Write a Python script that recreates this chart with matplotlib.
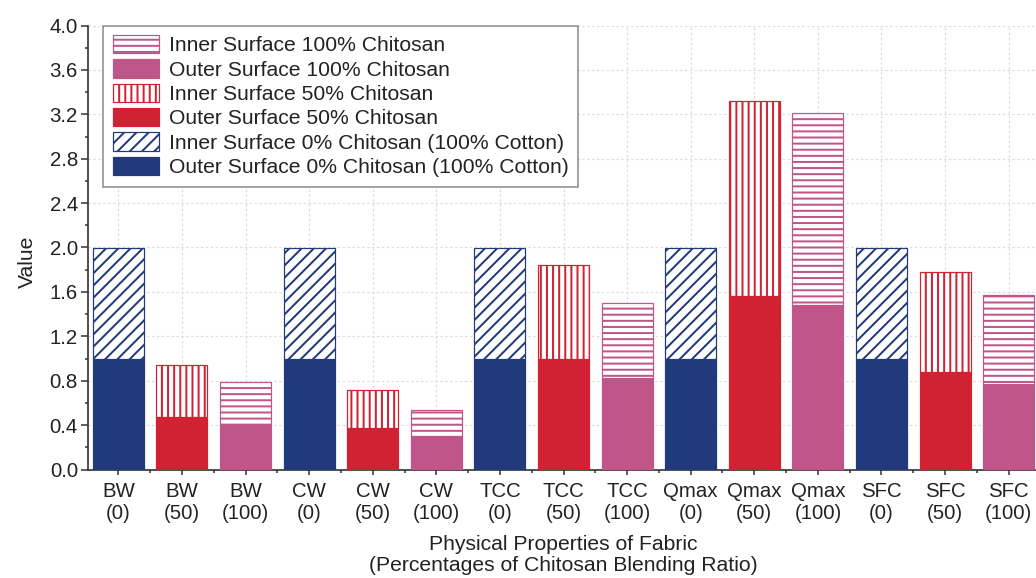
import numpy as np
import matplotlib
matplotlib.use("Agg")
import matplotlib.pyplot as plt
from matplotlib.ticker import MultipleLocator, FixedLocator

plt.rcParams['font.family'] = ['Liberation Sans', 'DejaVu Sans']
plt.rcParams['hatch.linewidth'] = 1.3

# Fabric properties and chitosan blending ratio of each bar
properties = ["BW", "BW", "BW", "CW", "CW", "CW", "TCC", "TCC", "TCC",
              "Qmax", "Qmax", "Qmax", "SFC", "SFC", "SFC"]
ratios = [0, 50, 100, 0, 50, 100, 0, 50, 100, 0, 50, 100, 0, 50, 100]

# Outer-surface values and inner-surface values (stacked on top)
outer_surface = [1.00, 0.47, 0.41, 1.00, 0.37, 0.30, 1.00, 1.00, 0.82,
                 1.00, 1.56, 1.48, 1.00, 0.88, 0.77]
inner_surface = [1.00, 0.47, 0.38, 1.00, 0.35, 0.24, 1.00, 0.84, 0.68,
                 1.00, 1.76, 1.73, 1.00, 0.90, 0.80]

tick_labels = [f"{p}\n({r})" for p, r in zip(properties, ratios)]

NAVY = "#213a7b"
RED = "#d02232"
PINK = "#c05589"
TEXT = "#222222"

styles = {
    0: dict(color=NAVY, hatch="///",
            outer="Outer Surface 0% Chitosan (100% Cotton)",
            inner="Inner Surface 0% Chitosan (100% Cotton)"),
    50: dict(color=RED, hatch="|||",
             outer="Outer Surface 50% Chitosan",
             inner="Inner Surface 50% Chitosan"),
    100: dict(color=PINK, hatch="---",
              outer="Outer Surface 100% Chitosan",
              inner="Inner Surface 100% Chitosan"),
}

DPI = 110
fig = plt.figure(figsize=(1036 / DPI, 578 / DPI), dpi=DPI)
fig.patch.set_facecolor("white")
ax = fig.add_axes([88 / 1036, (578 - 469.5) / 578, 951 / 1036, 444 / 578])

x = np.arange(len(properties))
outer_arr = np.array(outer_surface)
inner_arr = np.array(inner_surface)
ratio_arr = np.array(ratios)
width = 0.80

handles = {}
for r, st in styles.items():
    m = ratio_arr == r
    h_out = ax.bar(x[m], outer_arr[m], width=width, color=st["color"],
                   edgecolor=st["color"], linewidth=0.8, label=st["outer"], zorder=3)
    h_in = ax.bar(x[m], inner_arr[m], width=width, bottom=outer_arr[m],
                  facecolor="white", edgecolor=st["color"], hatch=st["hatch"],
                  linewidth=0.8, label=st["inner"], zorder=3)
    handles[r] = (h_in, h_out)

order = [handles[100][0], handles[100][1], handles[50][0], handles[50][1],
         handles[0][0], handles[0][1]]
leg = ax.legend(handles=order, loc="upper left", bbox_to_anchor=(0.016, 1.0),
                borderaxespad=0, fontsize=13.8, frameon=True, fancybox=False,
                edgecolor="#8a8a8a", framealpha=1, handlelength=2.2,
                handleheight=0.95, handletextpad=0.45, labelspacing=0.19,
                borderpad=0.45)
leg.get_frame().set_linewidth(1.0)
for t in leg.get_texts():
    t.set_color(TEXT)
leg.set_zorder(5)

ax.set_xlim(-0.477, 14.477)
ax.set_ylim(0, 4.0)

ax.set_xticks(x)
ax.set_xticklabels(tick_labels)
ax.xaxis.set_minor_locator(FixedLocator(np.arange(0.5, 14, 1.0)))
ax.yaxis.set_major_locator(MultipleLocator(0.4))
ax.yaxis.set_minor_locator(MultipleLocator(0.2))
ax.yaxis.set_major_formatter(matplotlib.ticker.FormatStrFormatter("%.1f"))

ax.tick_params(axis="both", which="major", direction="out", labelsize=13.3,
               colors="#333333", labelcolor=TEXT, width=1.0)
ax.tick_params(axis="y", which="major", length=4.6, pad=2)
ax.tick_params(axis="x", which="major", length=3.3, pad=5)
ax.tick_params(axis="both", which="minor", direction="out", length=2.2,
               width=1.0, colors="#333333")

for side in ("top", "right"):
    ax.spines[side].set_visible(False)
for side in ("left", "bottom"):
    ax.spines[side].set_color("#333333")
    ax.spines[side].set_linewidth(1.1)

ax.set_axisbelow(True)
ax.grid(True, which="major", color="#dcdcdc", linestyle=(0, (2, 2)), linewidth=0.8)

ax.set_ylabel("Value", fontsize=13.8, color=TEXT)
ax.yaxis.set_label_coords(-0.054, 0.467)
ax.set_xlabel("Physical Properties of Fabric\n(Percentages of Chitosan Blending Ratio)",
              fontsize=13.8, color=TEXT, linespacing=1.1, labelpad=8)

fig.savefig("out.png", dpi=DPI, facecolor="white")
